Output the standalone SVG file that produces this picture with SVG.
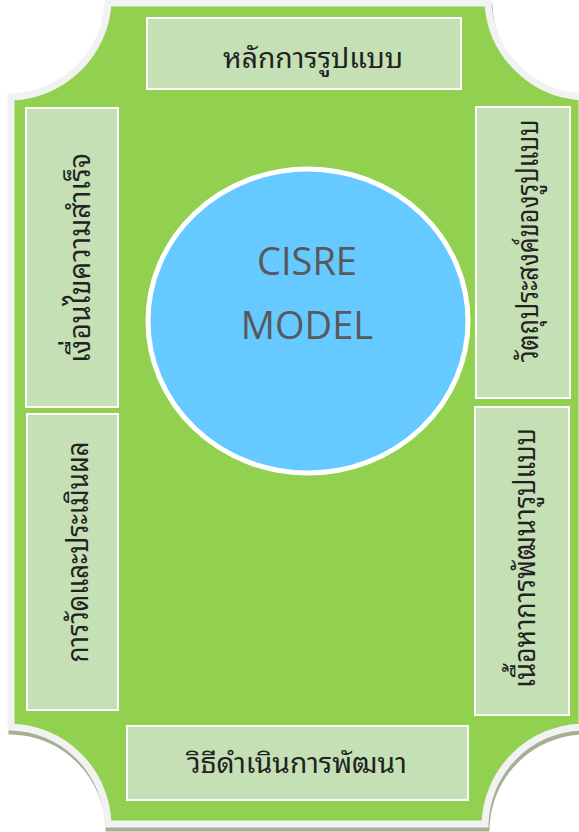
<svg xmlns="http://www.w3.org/2000/svg" width="579" height="832" viewBox="0 0 579 832">
<defs>
<style>
.box{fill:#c5e0b4;stroke:#ffffff;stroke-width:2}
.th{font-family:"Noto Sans Thai Looped","Noto Serif Thai","Leelawadee UI","Tahoma","Garuda","Loma","Noto Sans Thai","Noto Sans",sans-serif;font-size:28px;fill:#222222;text-anchor:middle}
.tv{font-size:30px}
.en{font-family:"Open Sans","Noto Sans",sans-serif;font-size:38px;fill:#595959;text-anchor:middle}
</style>
</defs>
<rect width="579" height="832" fill="#ffffff"/>
<g id="frame">
<path d="M108,3 L488,3 A100 100 0 0 0 582,97 L582,727 A100 100 0 0 0 485,824 L108,824 A100 100 0 0 0 11,727 L11,97 A100 100 0 0 0 108,3 Z" fill="#a6ae94" stroke="#a6ae94" stroke-width="7" transform="translate(1,4)"/>
<path d="M108,3 L488,3 A100 100 0 0 0 582,97 L582,727 A100 100 0 0 0 485,824 L108,824 A100 100 0 0 0 11,727 L11,97 A100 100 0 0 0 108,3 Z" fill="#92d050" stroke="#f2f2f2" stroke-width="7"/>
</g>
<g id="n-top">
<rect class="box" x="147" y="18" width="314" height="71"/>
<text class="th" x="313" y="68" textLength="180" lengthAdjust="spacingAndGlyphs">หลักการรูปแบบ</text>
</g>
<g id="n-left-top">
<rect class="box" x="26" y="108" width="92" height="299"/>
<text class="th tv" transform="translate(80,258) rotate(-90)" x="0" y="10" textLength="210" lengthAdjust="spacingAndGlyphs">เงื่อนไขความสำเร็จ</text>
</g>
<g id="n-left-bottom">
<rect class="box" x="27" y="414" width="91" height="296"/>
<text class="th tv" transform="translate(78,552) rotate(-90)" x="0" y="10" textLength="221" lengthAdjust="spacingAndGlyphs">การวัดและประเมินผล</text>
</g>
<g id="n-right-top">
<rect class="box" x="476" y="107" width="94" height="291"/>
<text class="th tv" transform="translate(528,241) rotate(-90)" x="0" y="10" textLength="243" lengthAdjust="spacingAndGlyphs">วัตถุประสงค์ของรูปแบบ</text>
</g>
<g id="n-right-bottom">
<rect class="box" x="475" y="407" width="94" height="308"/>
<text class="th tv" transform="translate(525,558) rotate(-90)" x="0" y="10" textLength="260" lengthAdjust="spacingAndGlyphs">เนื้อหาการพัฒนารูปแบบ</text>
</g>
<g id="n-bottom">
<rect class="box" x="127" y="726" width="341" height="74"/>
<text class="th" x="297" y="773" textLength="220" lengthAdjust="spacingAndGlyphs">วิธีดำเนินการพัฒนา</text>
</g>
<g id="n-center">
<ellipse cx="308" cy="321" rx="160" ry="152" fill="#66c9ff" stroke="#ffffff" stroke-width="5"/>
<text class="en" x="307" y="275">CISRE</text>
<text class="en" x="307" y="339">MODEL</text>
</g>
<g id="connectors"/>
</svg>
